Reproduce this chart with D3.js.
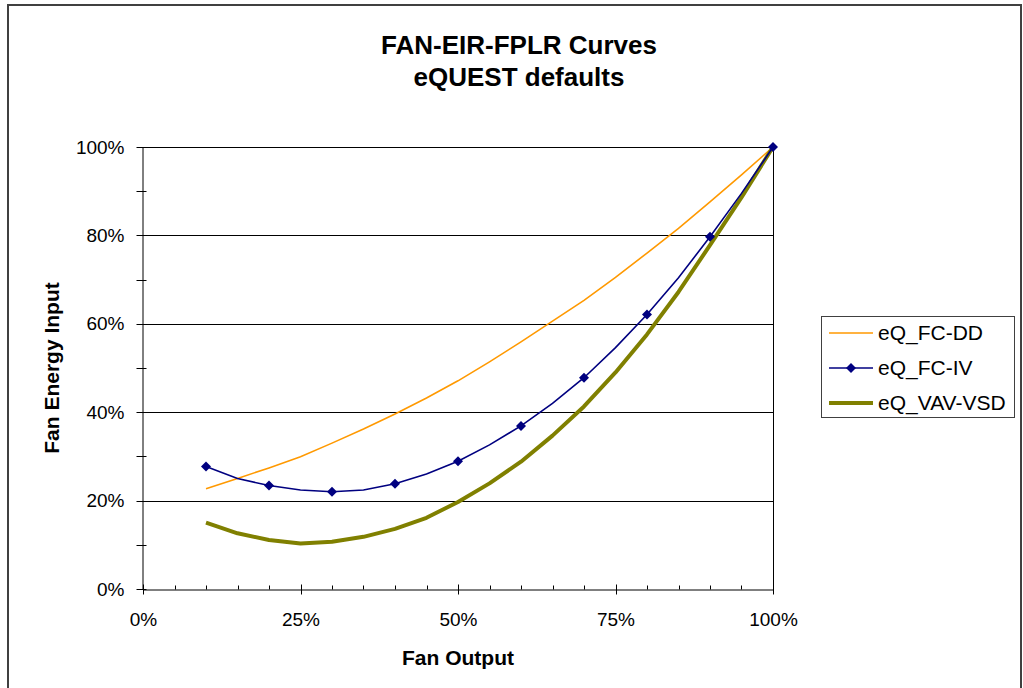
<!DOCTYPE html>
<html>
<head>
<meta charset="utf-8">
<script src="https://cdn.jsdelivr.net/npm/d3@7"></script>
<style>
  body { margin: 0; background: #fff; }
  text { font-family: "Liberation Sans", Arial, sans-serif; }
</style>
</head>
<body>
<div id="vis"></div>
<script>
// fan output (fraction of design flow)
var fanOutput = [0.10,0.15,0.20,0.25,0.30,0.35,0.40,0.45,0.50,0.55,0.60,0.65,0.70,0.75,0.80,0.85,0.90,0.95,1.00];
// fan energy input, percent
var fcDD   = [22.7,25.0,27.4,29.9,33.0,36.2,39.6,43.2,47.1,51.4,55.9,60.6,65.3,70.5,76.0,81.6,87.6,93.7,100];
var fcIV   = [27.7,25.0,23.4,22.4,22.0,22.4,23.8,26.0,28.9,32.6,36.9,42.0,47.8,54.6,62.1,70.4,79.7,89.5,100];
var vavVSD = [15.0,12.6,11.1,10.3,10.7,11.8,13.6,16.1,19.7,23.9,28.8,34.7,41.3,49.0,57.6,67.2,77.8,88.6,100];

var seriesNames = ["eQ_FC-DD", "eQ_FC-IV", "eQ_VAV-VSD"];
var xTicks = [0, 0.25, 0.5, 0.75, 1];
var yTicks = [0, 0.2, 0.4, 0.6, 0.8, 1];

var W = 1023, H = 688;
var svg = d3.select("#vis").append("svg")
  .attr("width", W).attr("height", H);

// chart frame
svg.append("rect")
  .attr("x", 8).attr("y", 5).attr("width", 1013).attr("height", 700)
  .attr("fill", "#fff").attr("stroke", "#404040").attr("stroke-width", 2);

var xScale = d3.scaleLinear().domain([0, 1]).range([143, 773]);
var yScale = d3.scaleLinear().domain([0, 1]).range([589, 147]);

// gridlines
svg.append("g")
  .selectAll("line")
  .data(yTicks.filter(function(d){ return d > 0; }))
  .enter().append("line")
    .attr("x1", xScale(0)).attr("x2", xScale(1))
    .attr("y1", function(d){ return Math.round(yScale(d)) + 0.5; })
    .attr("y2", function(d){ return Math.round(yScale(d)) + 0.5; })
    .attr("stroke", "#000").attr("stroke-width", 1);

// right border of plot area
svg.append("line")
  .attr("x1", Math.round(xScale(1)) + 0.5).attr("x2", Math.round(xScale(1)) + 0.5)
  .attr("y1", yScale(1)).attr("y2", yScale(0))
  .attr("stroke", "#000");

// x axis
var xAxis = d3.axisBottom(xScale)
  .tickValues(xTicks)
  .tickFormat(d3.format(".0%"))
  .tickSizeInner(0).tickSizeOuter(0).tickPadding(23);
var gx = svg.append("g")
  .attr("transform", "translate(0," + (Math.round(yScale(0)) + 0.5) + ")")
  .call(xAxis);
gx.select(".domain").attr("stroke", "#000");
gx.selectAll("text").attr("font-size", 19).attr("fill", "#000");
// minor / major x ticks
gx.selectAll(".xminor")
  .data(d3.range(0, 21).map(function(i){ return i / 20; }))
  .enter().append("line")
    .attr("x1", function(d){ return Math.round(xScale(d)) + 0.5; })
    .attr("x2", function(d){ return Math.round(xScale(d)) + 0.5; })
    .attr("y1", function(d){ return (Math.round(d * 100) % 25 === 0) ? -5 : -4; })
    .attr("y2", function(d){ return (Math.round(d * 100) % 25 === 0) ? 5 : 0; })
    .attr("stroke", "#000");

// y axis
var yAxis = d3.axisLeft(yScale)
  .tickValues(yTicks)
  .tickFormat(d3.format(".0%"))
  .tickSizeInner(0).tickSizeOuter(0).tickPadding(18);
var gy = svg.append("g")
  .attr("transform", "translate(" + (Math.round(xScale(0)) - 0.5) + ",0)")
  .call(yAxis);
gy.select(".domain").attr("stroke", "#000");
gy.selectAll("text").attr("font-size", 19).attr("fill", "#000");
gy.selectAll(".yminor")
  .data(d3.range(0, 11).map(function(i){ return i / 10; }))
  .enter().append("line")
    .attr("y1", function(d){ return Math.round(yScale(d)) + 0.5; })
    .attr("y2", function(d){ return Math.round(yScale(d)) + 0.5; })
    .attr("x1", -6).attr("x2", 4)
    .attr("stroke", "#000");

// series
var line = d3.line()
  .x(function(d){ return xScale(d[0]); })
  .y(function(d){ return yScale(d[1] / 100); });

function pairs(vals){ return fanOutput.map(function(x, i){ return [x, vals[i]]; }); }

svg.append("path")
  .datum(pairs(fcDD))
  .attr("d", line)
  .attr("fill", "none").attr("stroke", "#FF9900").attr("stroke-width", 1.6);

svg.append("path")
  .datum(pairs(vavVSD))
  .attr("d", line)
  .attr("fill", "none").attr("stroke", "#808000").attr("stroke-width", 4)
  .attr("stroke-linejoin", "round");

svg.append("path")
  .datum(pairs(fcIV))
  .attr("d", line)
  .attr("fill", "none").attr("stroke", "#000080").attr("stroke-width", 1.6);

var diamond = d3.symbol().type(d3.symbolDiamond2).size(64);
svg.append("g")
  .selectAll("path")
  .data(pairs(fcIV).filter(function(d, i){ return i % 2 === 0; }))
  .enter().append("path")
    .attr("d", diamond)
    .attr("transform", function(d){ return "translate(" + xScale(d[0]) + "," + yScale(d[1] / 100) + ")"; })
    .attr("fill", "#000080");

// titles
svg.append("text")
  .attr("x", 519).attr("y", 54)
  .attr("text-anchor", "middle")
  .attr("font-size", 26).attr("font-weight", "bold")
  .text("FAN-EIR-FPLR Curves");
svg.append("text")
  .attr("x", 519).attr("y", 86)
  .attr("text-anchor", "middle")
  .attr("font-size", 26).attr("font-weight", "bold")
  .text("eQUEST defaults");

svg.append("text")
  .attr("x", 458).attr("y", 665)
  .attr("text-anchor", "middle")
  .attr("font-size", 21).attr("font-weight", "bold")
  .text("Fan Output");

svg.append("text")
  .attr("transform", "translate(59,368) rotate(-90)")
  .attr("text-anchor", "middle")
  .attr("font-size", 21).attr("font-weight", "bold")
  .text("Fan Energy Input");

// legend
var legend = svg.append("g").attr("transform", "translate(821,316)");
legend.append("rect")
  .attr("x", 0.5).attr("y", 0.5).attr("width", 193).attr("height", 101)
  .attr("fill", "#fff").attr("stroke", "#404040");

var legendStyle = [
  { color: "#FF9900", width: 1.6, marker: false },
  { color: "#000080", width: 1.6, marker: true },
  { color: "#808000", width: 4, marker: false }
];
seriesNames.forEach(function(name, i){
  var y = 17 + i * 35;
  legend.append("line")
    .attr("x1", 8).attr("x2", 52).attr("y1", y).attr("y2", y)
    .attr("stroke", legendStyle[i].color).attr("stroke-width", legendStyle[i].width);
  if (legendStyle[i].marker) {
    legend.append("path")
      .attr("d", diamond)
      .attr("transform", "translate(30," + y + ")")
      .attr("fill", legendStyle[i].color);
  }
  legend.append("text")
    .attr("x", 57).attr("y", y + 7)
    .attr("font-size", 21)
    .text(name);
});
</script>
</body>
</html>
